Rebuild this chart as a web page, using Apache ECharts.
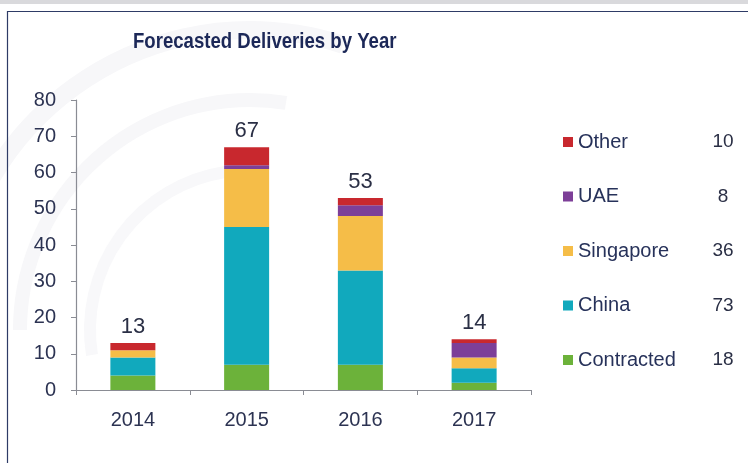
<!DOCTYPE html>
<html>
<head>
<meta charset="utf-8">
<script src="https://cdn.jsdelivr.net/npm/echarts@6/dist/echarts.min.js"></script>
<style>
  html, body { margin: 0; padding: 0; background: #ffffff; }
  #chart { width: 748px; height: 463px; }
</style>
</head>
<body>
<div id="chart"></div>
<script>
// Forecasted deliveries per year, stacked by destination
const years = ['2014', '2015', '2016', '2017'];
const contracted = [4, 7, 7, 2];
const china = [5, 38, 26, 4];
const singapore = [2, 16, 15, 3];
const uae = [0, 1, 3, 4];
const other = [2, 5, 2, 1];

// Legend entries (top to bottom) and the totals printed beside them
const legendNames = ['Other', 'UAE', 'Singapore', 'China', 'Contracted'];
const legendTotals = { Other: 10, UAE: 8, Singapore: 36, China: 73, Contracted: 18 };

const yTicks = { min: 0, max: 80, interval: 10 };

// Year totals shown above each column
const yearTotals = years.map((_, i) =>
  contracted[i] + china[i] + singapore[i] + uae[i] + other[i]);

const navy = '#27325a';
const font = 'Liberation Sans, Arial, sans-serif';

const chart = echarts.init(document.getElementById('chart'), null, { renderer: 'canvas' });

function stackSeries(name, data, color, extra) {
  return Object.assign({
    name: name,
    type: 'bar',
    stack: 'total',
    barWidth: 45,
    data: data,
    itemStyle: { color: color },
    emphasis: { disabled: true }
  }, extra || {});
}

chart.setOption({
  animation: false,
  backgroundColor: '#ffffff',
  textStyle: { fontFamily: font },
  grid: { left: 76, right: 217, top: 100, bottom: 73, containLabel: false },
  graphic: [
    // faint shell watermark behind the plot
    { type: 'arc', z: -10, silent: true,
      shape: { cx: 250, cy: 330, r: 300, startAngle: Math.PI * 1.05, endAngle: Math.PI * 1.6 },
      style: { stroke: '#f7f7f9', lineWidth: 18, fill: null } },
    { type: 'arc', z: -10, silent: true,
      shape: { cx: 250, cy: 330, r: 230, startAngle: Math.PI * 1.0, endAngle: Math.PI * 1.55 },
      style: { stroke: '#f7f7f9', lineWidth: 14, fill: null } },
    { type: 'arc', z: -10, silent: true,
      shape: { cx: 250, cy: 330, r: 160, startAngle: Math.PI * 0.95, endAngle: Math.PI * 1.5 },
      style: { stroke: '#f8f8fa', lineWidth: 12, fill: null } },
    // outer strip and panel frame
    { type: 'rect', z: -5, silent: true,
      shape: { x: 0, y: 0, width: 748, height: 4 },
      style: { fill: '#d9d9dc' } },
    { type: 'rect', z: 50, silent: true,
      shape: { x: 7.5, y: 11.5, width: 760, height: 470 },
      style: { fill: null, stroke: '#2e3b66', lineWidth: 1.2 } },
    // chart title (narrow bold face)
    { type: 'text', z: 20, silent: true,
      x: 133, y: 31, scaleX: 0.845,
      style: { text: 'Forecasted Deliveries by Year', fill: '#1c2858',
        font: 'bold 22px ' + font } }
  ],
  legend: {
    orient: 'vertical',
    left: 558,
    top: 127,
    itemWidth: 10,
    itemHeight: 10,
    itemGap: 34.5,
    icon: 'rect',
    selectedMode: false,
    data: legendNames,
    formatter: function (name) {
      return '{n|' + name + '}{v|' + legendTotals[name] + '}';
    },
    textStyle: {
      rich: {
        n: { width: 130, fontSize: 20, color: navy, fontFamily: font, lineHeight: 20 },
        v: { width: 30, align: 'center', fontSize: 19, color: '#2a2f45', fontFamily: font,
             lineHeight: 20 }
      }
    }
  },
  xAxis: {
    type: 'category',
    data: years,
    boundaryGap: true,
    axisLine: { show: true, lineStyle: { color: '#8a8c94', width: 1.2 } },
    axisTick: { show: true, length: 5, alignWithLabel: false, lineStyle: { color: '#8a8c94' } },
    axisLabel: { color: '#2c3352', fontSize: 20, margin: 20, fontFamily: font }
  },
  yAxis: {
    type: 'value',
    min: yTicks.min,
    max: yTicks.max,
    interval: yTicks.interval,
    axisLine: { show: true, lineStyle: { color: '#8a8c94', width: 1.2 } },
    axisTick: { show: true, length: 5, lineStyle: { color: '#8a8c94' } },
    splitLine: { show: false },
    axisLabel: { color: '#2c3352', fontSize: 20, margin: 20, fontFamily: font }
  },
  series: [
    stackSeries('Contracted', contracted, '#6cb23a'),
    stackSeries('China', china, '#11a9bd'),
    stackSeries('Singapore', singapore, '#f5bd48'),
    stackSeries('UAE', uae, '#7d3f98'),
    stackSeries('Other', other, '#c8282e', {
      label: {
        show: true,
        position: 'top',
        distance: 5,
        fontSize: 22,
        color: '#2a2f45',
        fontFamily: font,
        formatter: function (p) { return String(yearTotals[p.dataIndex]); }
      }
    })
  ]
});
</script>
</body>
</html>
